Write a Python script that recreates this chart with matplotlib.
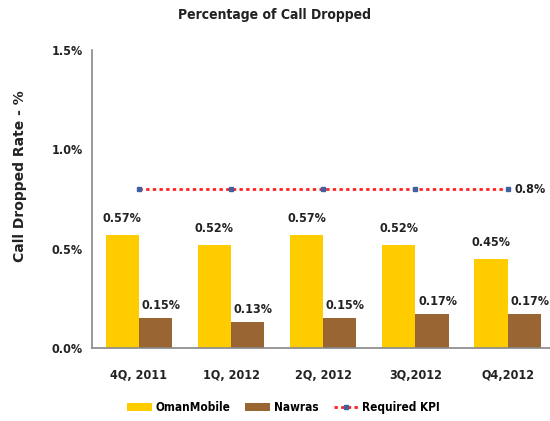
import matplotlib
matplotlib.use('Agg')
from matplotlib import pyplot as plt
import numpy as np

quarters = ['4Q, 2011', '1Q, 2012', '2Q, 2012', '3Q,2012', 'Q4,2012']
oman_mobile = [0.57, 0.52, 0.57, 0.52, 0.45]
nawras = [0.15, 0.13, 0.15, 0.17, 0.17]
required_kpi = [0.8, 0.8, 0.8, 0.8, 0.8]
y_ticks = [0.0, 0.5, 1.0, 1.5]

plt.rcParams['font.family'] = ['DejaVu Sans']
plt.rcParams['font.stretch'] = 'condensed'

fig = plt.figure(figsize=(5.5, 4.21), dpi=100)
ax: plt.Axes = fig.add_axes([0.167, 0.173, 0.833, 0.708])

x = np.arange(len(quarters))
w = 0.36
b1 = ax.bar(x - w / 2, oman_mobile, w, color='#FFCC00', label='OmanMobile')
b2 = ax.bar(x + w / 2, nawras, w, color='#996633', label='Nawras')
ln, = ax.plot(x, required_kpi, color='#FF2020', linestyle=(0, (1.2, 1.2)), linewidth=2,
              marker='s', markersize=3, markerfacecolor='#4060A0', markeredgecolor='#4060A0',
              label='Required KPI')

lbl_kw = dict(fontsize=9, fontweight='bold', color='#222222')
for i in range(len(quarters)):
    ax.text(x[i] - w / 2, oman_mobile[i] + 0.05, f'{oman_mobile[i]:.2f}%',
            ha='center', va='bottom', **lbl_kw)
    ax.text(x[i] + w / 2 + 0.06, nawras[i] + 0.03, f'{nawras[i]:.2f}%',
            ha='center', va='bottom', **lbl_kw)
ax.text(x[-1] + 0.08, required_kpi[-1], f'{required_kpi[-1]}%', ha='left', va='center', **lbl_kw)

ax.set_xlim(-0.51, 4.46)
ax.set_ylim(0, 1.5)
ax.set_yticks(y_ticks, [f'{v:.1f}%' for v in y_ticks])
ax.set_xticks(x, quarters)
ax.tick_params(axis='both', length=0, labelsize=9, colors='#222222')
ax.tick_params(axis='y', pad=6.5)
ax.tick_params(axis='x', pad=15)
for lbl in ax.get_xticklabels() + ax.get_yticklabels():
    lbl.set_fontweight('bold')
for side in ['top', 'right']:
    ax.spines[side].set_visible(False)
for side in ['left', 'bottom']:
    ax.spines[side].set_color('#888888')
    ax.spines[side].set_linewidth(1.2)

fig.text(0.5, 0.965, 'Percentage of Call Dropped', ha='center', va='center',
         fontsize=10, fontweight='bold', color='#222222')
fig.text(0.036, 0.582, 'Call Dropped Rate - %', rotation=90, ha='center', va='center',
         fontsize=10, fontweight='bold', fontstretch='normal', color='#222222')

fig.legend([b1, b2, ln], ['OmanMobile', 'Nawras', 'Required KPI'],
           loc='center', bbox_to_anchor=(0.515, 0.031), ncol=3, frameon=False,
           prop={'weight': 'bold', 'size': 8.5, 'stretch': 'condensed'}, handlelength=2.1,
           handleheight=0.7, columnspacing=1.3, handletextpad=0.3)

fig.savefig('out.png', dpi=100)
plt.close()
